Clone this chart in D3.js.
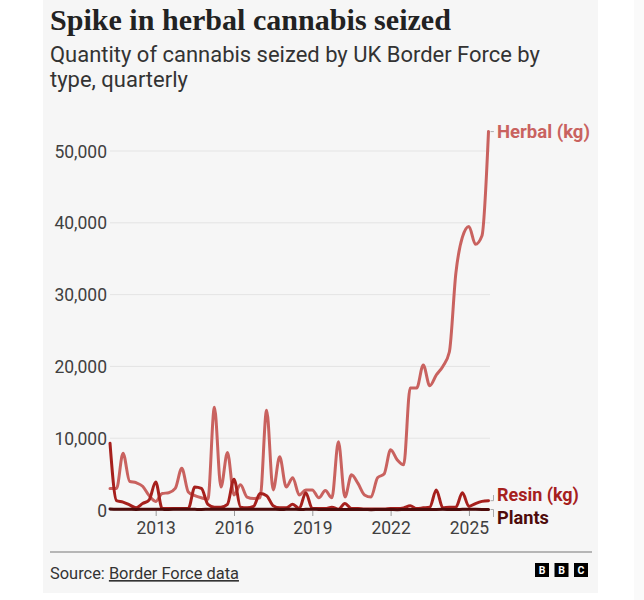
<!DOCTYPE html>
<html>
<head>
<meta charset="utf-8">
<script src="https://cdn.jsdelivr.net/npm/d3@7"></script>
<style>
  html, body { margin: 0; padding: 0; background: #ffffff; }
  svg { display: block; }
</style>
</head>
<body>
<svg id="chart" width="644" height="600"></svg>
<script>
// ---------- DATA ----------
const quarters = [
  "2011 Q2","2011 Q3","2011 Q4",
  "2012 Q1","2012 Q2","2012 Q3","2012 Q4",
  "2013 Q1","2013 Q2","2013 Q3","2013 Q4",
  "2014 Q1","2014 Q2","2014 Q3","2014 Q4",
  "2015 Q1","2015 Q2","2015 Q3","2015 Q4",
  "2016 Q1","2016 Q2","2016 Q3","2016 Q4",
  "2017 Q1","2017 Q2","2017 Q3","2017 Q4",
  "2018 Q1","2018 Q2","2018 Q3","2018 Q4",
  "2019 Q1","2019 Q2","2019 Q3","2019 Q4",
  "2020 Q1","2020 Q2","2020 Q3","2020 Q4",
  "2021 Q1","2021 Q2","2021 Q3","2021 Q4",
  "2022 Q1","2022 Q2","2022 Q3","2022 Q4",
  "2023 Q1","2023 Q2","2023 Q3","2023 Q4",
  "2024 Q1","2024 Q2","2024 Q3","2024 Q4",
  "2025 Q1","2025 Q2","2025 Q3","2025 Q4"
];
const herbal = [
  3000, 3000, 7900,
  4000, 3800, 3300, 2000,
  1200, 2300, 2400, 3000,
  5800, 2500, 2000, 1700,
  1500, 14300, 3200, 8000,
  2100, 3500, 1800, 1600,
  1700, 13900, 2800, 7400,
  3200, 4500, 2100, 2800,
  2800, 1700, 2700, 1700,
  9500, 1800, 4900, 3700,
  2100, 1800, 4500, 5000,
  8400, 7000, 6300, 17000,
  17000, 20200, 17300, 18800,
  20000, 22000, 33000, 38000,
  39500, 37000, 38200, 52700
];
const resin = [
  9300, 1300, 1100,
  700, 300, 900, 1400,
  3900, 200, 200, 200,
  200, 200, 3200, 3000,
  800, 400, 400, 800,
  4300, 400, 300, 500,
  2300, 2000, 600, 300,
  300, 800, 200, 2400,
  200, 200, 200, 400,
  100, 900, 200, 200,
  150, 150, 150, 150,
  200, 200, 300, 600,
  200, 300, 400, 2800,
  300, 400, 400, 2400,
  500, 900, 1200, 1300
];
const plants = [
  150, 100, 120,
  100, 80, 100, 120,
  100, 90, 80, 100,
  120, 100, 90, 80,
  100, 120, 100, 90,
  100, 110, 100, 90,
  100, 120, 100, 80,
  90, 100, 80, 90,
  100, 80, 70, 60,
  80, 60, 70, 60,
  60, 50, 60, 70,
  60, 50, 60, 70,
  80, 70, 60, 80,
  90, 80, 70, 90,
  100, 90, 80, 70
];
const yTicks = [0, 10000, 20000, 30000, 40000, 50000];
const xTicks = [2013, 2016, 2019, 2022, 2025];

const title = "Spike in herbal cannabis seized";
const subtitleLines = ["Quantity of cannabis seized by UK Border Force by", "type, quarterly"];
const sourceLabel = "Source: ";
const sourceLink = "Border Force data";
const seriesNames = ["Herbal (kg)", "Resin (kg)", "Plants"];
const seriesColors = ["#c9625f", "#a6201d", "#4e0b0b"];

// ---------- HELPERS ----------
const qToYear = q => { const [y, qq] = q.split(" Q"); return +y + (+qq - 1) / 4; };
const svg = d3.select("#chart");
const SANS = "Roboto, 'Noto Sans', 'Liberation Sans', sans-serif";

function fitWidth(sel, target) {
  const node = sel.node();
  const fs = parseFloat(sel.attr("font-size"));
  const w = node.getComputedTextLength();
  if (w > 0) sel.attr("font-size", (fs * target / w).toFixed(2));
  return sel;
}

// ---------- BACKGROUND ----------
svg.append("rect").attr("x", 0).attr("y", 0).attr("width", 644).attr("height", 600).attr("fill", "#ffffff");
svg.append("rect").attr("x", 43).attr("y", 0).attr("width", 555).attr("height", 593).attr("fill", "#f6f6f6");
svg.append("rect").attr("x", 634).attr("y", 0).attr("width", 10).attr("height", 600).attr("fill", "#fafafa");

// ---------- TITLES ----------
const t = svg.append("text").attr("x", 50).attr("y", 30)
  .attr("font-family", "'Liberation Serif', 'DejaVu Serif', serif")
  .attr("font-weight", "bold").attr("font-size", 26).attr("fill", "#222222").text(title);
fitWidth(t, 401);

const subs = subtitleLines.map((line, i) =>
  svg.append("text").attr("x", 50).attr("y", 62 + i * 25)
    .attr("font-family", SANS).attr("font-size", 20).attr("fill", "#333333").text(line));
fitWidth(subs[0], 490);
subs[1].attr("font-size", subs[0].attr("font-size"));

// ---------- SCALES ----------
const x = d3.scaleLinear().domain([qToYear(quarters[0]), qToYear(quarters[quarters.length - 1])]).range([110, 488.5]);
const y = d3.scaleLinear().domain([0, 50000]).range([510, 151]);

// gridlines
const grid = svg.append("g");
grid.selectAll("line").data(yTicks.filter(d => d > 0)).join("line")
  .attr("x1", 110).attr("x2", 490)
  .attr("y1", d => y(d)).attr("y2", d => y(d))
  .attr("stroke", "#e4e4e4").attr("stroke-width", 1);

// y axis
const yAxis = d3.axisLeft(y).tickValues(yTicks).tickSize(0).tickPadding(0)
  .tickFormat(d3.format(","));
const gy = svg.append("g").attr("transform", "translate(107,0)").call(yAxis);
gy.select(".domain").remove();
gy.selectAll("text").attr("font-family", SANS).attr("font-size", 17.5).attr("fill", "#404040").attr("dy", "0.35em");

// x axis
const xAxis = d3.axisBottom(x).tickValues(xTicks).tickSize(5).tickPadding(6).tickFormat(d3.format("d"));
const gx = svg.append("g").attr("transform", "translate(0,511)").call(xAxis);
gx.select(".domain").remove();
gx.selectAll("line").attr("stroke", "#9a9a9a");
gx.selectAll("text").attr("font-family", SANS).attr("font-size", 17.5).attr("fill", "#404040");

// zero line
svg.append("line").attr("x1", 110).attr("x2", 490).attr("y1", y(0)).attr("y2", y(0))
  .attr("stroke", "#888888").attr("stroke-width", 1);

// ---------- LINES ----------
const series = [herbal, resin, plants];
const line = d3.line().x((d, i) => x(qToYear(quarters[i]))).y(d => y(d)).curve(d3.curveMonotoneX);

[0, 1, 2].forEach(k => {
  svg.append("path").datum(series[k]).attr("d", line)
    .attr("fill", "none").attr("stroke", seriesColors[k])
    .attr("stroke-width", 3).attr("stroke-linejoin", "round").attr("stroke-linecap", "round");
});

// ---------- LABELS ----------
const labelY = [131, 495, 517];
const labelW = [93, 82, 52];
const lastX = x(qToYear(quarters[quarters.length - 1]));
series.forEach((s, k) => {
  const vy = y(s[s.length - 1]);
  const ly = labelY[k];
  svg.append("path")
    .attr("d", `M${lastX + 2},${vy} L${lastX + 5},${vy} L${lastX + 5},${ly}`)
    .attr("fill", "none").attr("stroke", "#aaaaaa").attr("stroke-width", 1);
  const lt = svg.append("text").attr("x", 497).attr("y", ly).attr("dy", "0.36em")
    .attr("font-family", SANS).attr("font-weight", "bold").attr("font-size", 17)
    .attr("fill", seriesColors[k]).text(seriesNames[k]);
  fitWidth(lt, labelW[k]);
});

// ---------- FOOTER ----------
svg.append("line").attr("x1", 50).attr("x2", 592).attr("y1", 552).attr("y2", 552)
  .attr("stroke", "#a0a0a0").attr("stroke-width", 1.5);
const src = svg.append("text").attr("x", 50).attr("y", 579)
  .attr("font-family", SANS).attr("font-size", 15).attr("fill", "#333333");
src.append("tspan").text(sourceLabel);
src.append("tspan").attr("text-decoration", "underline").text(sourceLink);
fitWidth(src, 189);

const bbc = ["B", "B", "C"];
const logo = svg.append("g");
bbc.forEach((ch, i) => {
  const bx = 535 + i * 19.5;
  logo.append("rect").attr("x", bx).attr("y", 563).attr("width", 14).attr("height", 14).attr("fill", "#000000");
  logo.append("text").attr("x", bx + 7).attr("y", 570).attr("dy", "0.36em").attr("text-anchor", "middle")
    .attr("font-family", SANS).attr("font-weight", "bold").attr("font-size", 10.5).attr("fill", "#ffffff").text(ch);
});
</script>
</body>
</html>
